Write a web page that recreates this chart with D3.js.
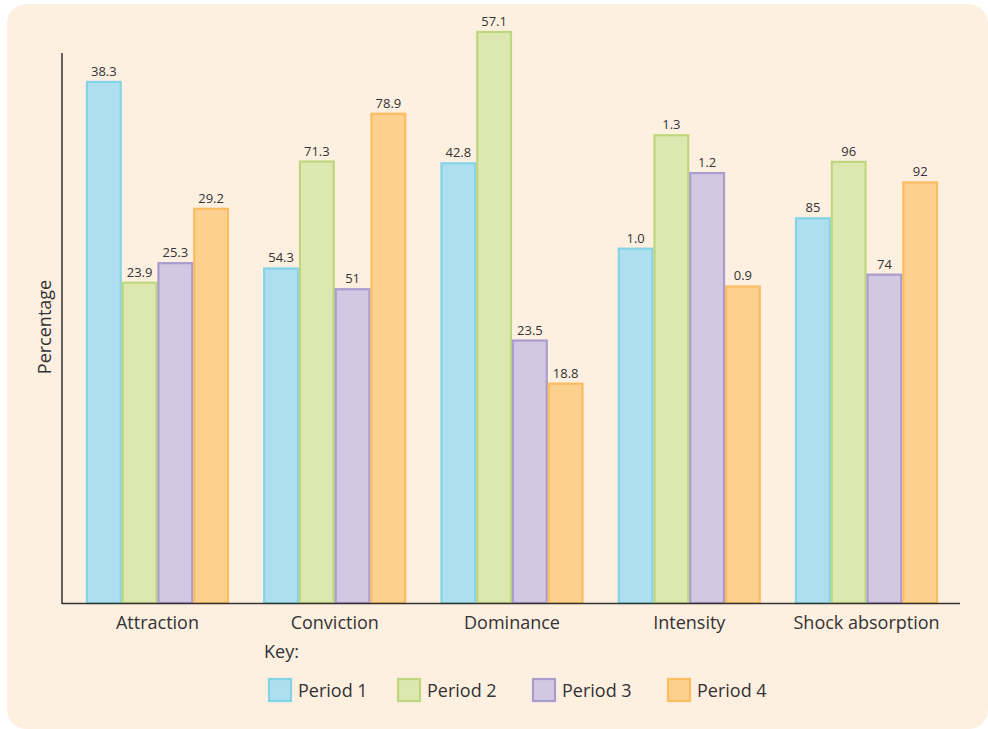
<!DOCTYPE html>
<html><head><meta charset="utf-8">
<script src="https://cdn.jsdelivr.net/npm/d3@7"></script>
<style>html,body{margin:0;padding:0;background:#fff;}svg{display:block;}</style>
</head><body>
<svg id="chart" width="988" height="729"></svg>
<script>
const categories = ["Attraction", "Conviction", "Dominance", "Intensity", "Shock absorption"];
const series = ["Period 1", "Period 2", "Period 3", "Period 4"];
const period1 = [38.3, 54.3, 42.8, 1.0, 85];
const period2 = [23.9, 71.3, 57.1, 1.3, 96];
const period3 = [25.3, 51, 23.5, 1.2, 74];
const period4 = [29.2, 78.9, 18.8, 0.9, 92];
const valueLabels = [
  ["38.3", "23.9", "25.3", "29.2"],
  ["54.3", "71.3", "51", "78.9"],
  ["42.8", "57.1", "23.5", "18.8"],
  ["1.0", "1.3", "1.2", "0.9"],
  ["85", "96", "74", "92"]
];
// each category is drawn on its own (unlabelled) value scale
const categoryDomains = [[0.86, 40.3], [0.95, 88.4], [-5.19, 54.7], [0.06, 1.515], [9.74, 117.05]];
const fills = ["#aedff0", "#dce8b0", "#d3c8e2", "#fcd08f"];
const strokes = ["#84d3e6", "#bed67c", "#a99ccf", "#fdbc62"];

const seriesValues = [period1, period2, period3, period4];
const font = "'Open Sans', 'Noto Sans', sans-serif";
const svg = d3.select("#chart");

svg.append("rect").attr("x", 7).attr("y", 4).attr("width", 981).attr("height", 725)
  .attr("rx", 20).attr("fill", "#fef0e1");

const baseY = 603, topY = 53, axisX = 62;
const x0 = d3.scaleBand().domain(categories).range([axisX, 962]).paddingInner(0.193).paddingOuter(0.135);
const x1 = d3.scaleBand().domain(series).range([0, x0.bandwidth()]);
const yScales = categoryDomains.map(d => d3.scaleLinear().domain(d).range([baseY, topY]));

const groups = svg.selectAll("g.grp").data(categories).join("g")
  .attr("class", "grp")
  .attr("transform", d => `translate(${x0(d)},0)`);

groups.each(function(cat, ci) {
  const g = d3.select(this);
  const y = yScales[ci];
  const rows = series.map((s, si) => ({s, si, v: seriesValues[si][ci], label: valueLabels[ci][si]}));
  g.selectAll("rect").data(rows).join("rect")
    .attr("x", d => x1(d.s) + 1)
    .attr("y", d => y(d.v) + 1)
    .attr("width", x1.bandwidth() - 2)
    .attr("height", d => baseY - y(d.v) - 1)
    .attr("fill", d => fills[d.si])
    .attr("stroke", d => strokes[d.si])
    .attr("stroke-width", 2.2);
  g.selectAll("text").data(rows).join("text")
    .attr("x", d => x1(d.s) + x1.bandwidth() / 2)
    .attr("y", d => y(d.v) - 5)
    .attr("text-anchor", "middle")
    .attr("font-family", font).attr("font-size", 13).attr("fill", "#333")
    .text(d => d.label);
});

// axes
svg.append("line").attr("x1", axisX).attr("x2", axisX).attr("y1", 53).attr("y2", baseY + 1)
  .attr("stroke", "#333").attr("stroke-width", 1.5);
const xAxis = svg.append("g").attr("transform", `translate(0,${baseY})`)
  .call(d3.axisBottom(x0).tickSize(0).tickPadding(10));
xAxis.select(".domain").attr("d", `M${axisX},0.5H960`).attr("stroke", "#333").attr("stroke-width", 1.5);
xAxis.selectAll("text").attr("font-family", font).attr("font-size", 18).attr("fill", "#333")
  .attr("dy", "0.9em");

svg.append("text").attr("transform", "translate(51,327) rotate(-90)")
  .attr("text-anchor", "middle").attr("font-family", font).attr("font-size", 18).attr("fill", "#333")
  .text("Percentage");

// legend
svg.append("text").attr("x", 264).attr("y", 658).attr("font-family", font).attr("font-size", 18)
  .attr("fill", "#333").text("Key:");
const legendX = [268, 397, 532, 667];
const lg = svg.selectAll("g.leg").data(series).join("g").attr("class", "leg")
  .attr("transform", (d, i) => `translate(${legendX[i]},678)`);
lg.append("rect").attr("x", 1).attr("y", 1).attr("width", 22).attr("height", 22)
  .attr("fill", (d, i) => fills[i]).attr("stroke", (d, i) => strokes[i]).attr("stroke-width", 2.2);
lg.append("text").attr("x", 30).attr("y", 19).attr("font-family", font).attr("font-size", 18)
  .attr("fill", "#333").text(d => d);
</script>
</body></html>
